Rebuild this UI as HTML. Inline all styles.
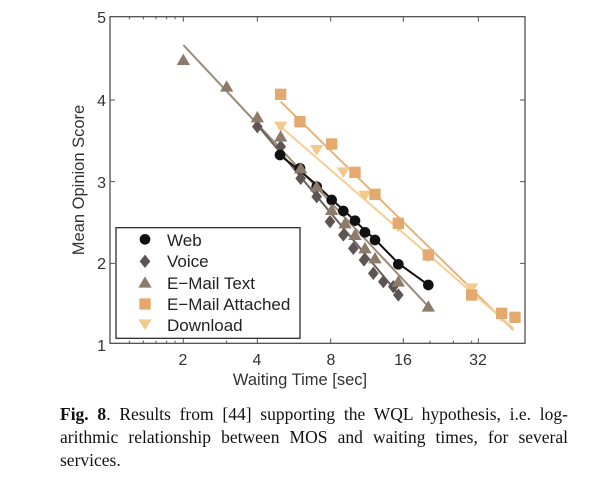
<!DOCTYPE html>
<html><head><style>
body{margin:0;background:#fff;width:600px;height:495px;overflow:hidden}
.cap{position:absolute;left:60px;width:508px;font-family:"Liberation Serif",serif;font-size:17.5px;color:#111;white-space:nowrap}
.j{text-align:justify;text-align-last:justify}
</style></head><body>
<svg width="600" height="495" style="position:absolute;left:0;top:0" font-family="Liberation Sans, sans-serif">
<g transform="translate(60,0) scale(0.33333)">
<rect x="150" y="50" width="1245" height="980" fill="none" stroke="#555" stroke-width="4"/>
<g stroke="#555" stroke-width="3">
<path d="M370 1030v-15M592 1030v-15M812 1030v-15M1030 1030v-15M1255 1030v-15M370 50v15M592 50v15M812 50v15M1030 50v15M1255 50v15"/>
<path d="M150 300h15M150 545h15M150 790h15M1395 300h-15M1395 545h-15M1395 790h-15"/>
<path d="M208 1030v-8M250 1030v-8M288 1030v-8M320 1030v-8M345 1030v-8M500 1030v-8M1110 1030v-8M1180 1030v-8M1235 1030v-8M208 50v8M250 50v8M288 50v8M320 50v8M345 50v8"/>
</g>
<line x1="370" y1="135" x2="1110" y2="925" stroke="#9a8a78" stroke-width="6"/>
<line x1="588" y1="370" x2="1020" y2="888" stroke="#6a6060" stroke-width="6"/>
<polyline points="655,462 720,512 770,555 815,598 850,630 885,662 915,692 945,718 1015,790 1105,855" fill="none" stroke="#111" stroke-width="6"/>
<line x1="662" y1="305" x2="1360" y2="990" stroke="#e8b278" stroke-width="6"/>
<line x1="662" y1="380" x2="1360" y2="985" stroke="#f4cf95" stroke-width="6"/>
<g fill="#f4c98c">
<path d="M642 365h40l-20 32z"/><path d="M750 435h40l-20 32z"/><path d="M830 502h40l-20 32z"/><path d="M895 572h40l-20 32z"/><path d="M995 665h40l-20 32z"/><path d="M1085 755h40l-20 32z"/><path d="M1215 850h40l-20 32z"/><path d="M1305 935h40l-20 32z"/>
</g>
<g fill="#e4a96e">
<rect x="645" y="266" width="34" height="34"/><rect x="703" y="348" width="34" height="34"/><rect x="798" y="415" width="34" height="34"/><rect x="868" y="500" width="34" height="34"/><rect x="928" y="566" width="34" height="34"/><rect x="998" y="653" width="34" height="34"/><rect x="1088" y="748" width="34" height="34"/><rect x="1218" y="868" width="34" height="34"/><rect x="1308" y="923" width="34" height="34"/><rect x="1348" y="935" width="34" height="34"/>
</g>
<g fill="#5e5454">
<path d="M592 360l16 20-16 20-16-20z"/><path d="M662 420l16 20-16 20-16-20z"/><path d="M722 515l16 20-16 20-16-20z"/><path d="M770 570l16 20-16 20-16-20z"/><path d="M810 645l16 20-16 20-16-20z"/><path d="M850 685l16 20-16 20-16-20z"/><path d="M880 725l16 20-16 20-16-20z"/><path d="M912 760l16 20-16 20-16-20z"/><path d="M940 800l16 20-16 20-16-20z"/><path d="M970 825l16 20-16 20-16-20z"/><path d="M1000 840l16 20-16 20-16-20z"/><path d="M1015 865l16 20-16 20-16-20z"/>
</g>
<g fill="#111">
<circle cx="660" cy="465" r="16"/><circle cx="720" cy="505" r="16"/><circle cx="770" cy="560" r="16"/><circle cx="815" cy="600" r="16"/><circle cx="850" cy="633" r="16"/><circle cx="885" cy="662" r="16"/><circle cx="915" cy="697" r="16"/><circle cx="945" cy="720" r="16"/><circle cx="1015" cy="793" r="16"/><circle cx="1105" cy="855" r="16"/>
</g>
<g fill="#8c7b69">
<path d="M350 195l20-34 20 34z"/><path d="M480 275l20-34 20 34z"/><path d="M572 367l20-34 20 34z"/><path d="M642 425l20-34 20 34z"/><path d="M702 520l20-34 20 34z"/><path d="M750 575l20-34 20 34z"/><path d="M795 645l20-34 20 34z"/><path d="M835 685l20-34 20 34z"/><path d="M865 720l20-34 20 34z"/><path d="M895 760l20-34 20 34z"/><path d="M925 790l20-34 20 34z"/><path d="M995 860l20-34 20 34z"/><path d="M1085 935l20-34 20 34z"/>
</g>
<rect x="168" y="683" width="552" height="332" fill="#fff" stroke="#333" stroke-width="4"/>
<circle cx="255" cy="718" r="16" fill="#111"/>
<path d="M255 764l16 20-16 20-16-20z" fill="#5e5454"/>
<path d="M235 863l20-34 20 34z" fill="#8c7b69"/>
<rect x="238" y="895" width="34" height="34" fill="#e4a96e"/>
<path d="M235 958h40l-20 32z" fill="#f4c98c"/>
</g>
<g font-size="17" fill="#222">
<text x="167" y="246">Web</text>
<text x="167" y="267">Voice</text>
<text x="167" y="289">E−Mail Text</text>
<text x="167" y="310">E−Mail Attached</text>
<text x="167" y="331">Download</text>
</g>
<g font-size="16" fill="#333" text-anchor="middle">
<text x="183" y="365">2</text><text x="257" y="365">4</text><text x="331" y="365">8</text><text x="403" y="365">16</text><text x="478" y="365">32</text>
<text x="300" y="385" font-size="16.5">Waiting Time [sec]</text>
</g>
<g font-size="16" fill="#333" text-anchor="end">
<text x="106" y="23">5</text><text x="106" y="106">4</text><text x="106" y="188">3</text><text x="106" y="269">2</text><text x="106" y="351">1</text>
</g>
<text transform="translate(84,180) rotate(-90)" font-size="16.5" fill="#333" text-anchor="middle">Mean Opinion Score</text>
</svg>
<div class="cap j" style="top:404px"><b>Fig. 8</b>. Results from [44] supporting the WQL hypothesis, i.e. log-</div>
<div class="cap j" style="top:427px">arithmic relationship between MOS and waiting times, for several</div>
<div class="cap" style="top:450px">services.</div>
</body></html>
